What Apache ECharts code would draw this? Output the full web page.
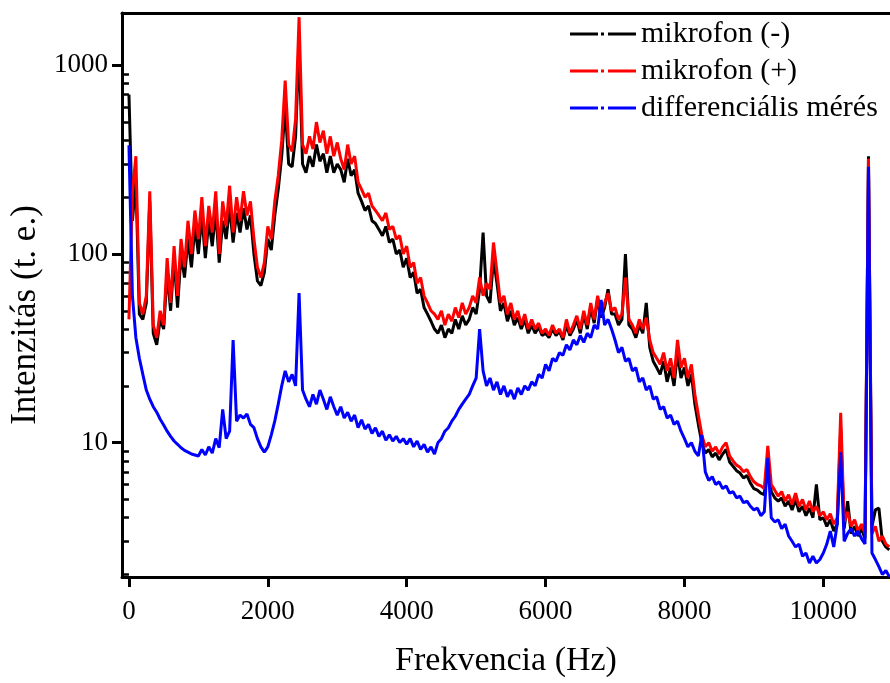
<!DOCTYPE html>
<html>
<head>
<meta charset="utf-8">
<script src="https://cdn.jsdelivr.net/npm/echarts@6/dist/echarts.min.js"></script>
<style>html,body{margin:0;padding:0;background:#fff}#c{width:890px;height:683px}</style>
</head>
<body>
<div id="c"></div>
<script>
const freq = [
0,50,100,150,200,250,300,350,400,450,500,550,600,650,700,750,800,850,900,950,
1000,1050,1100,1150,1200,1250,1300,1350,1400,1450,1500,1550,1600,1650,1700,1750,1800,1850,1900,1950,
2000,2050,2100,2150,2200,2250,2300,2350,2400,2450,2500,2550,2600,2650,2700,2750,2800,2850,2900,2950,
3000,3050,3100,3150,3200,3250,3300,3350,3400,3450,3500,3550,3600,3650,3700,3750,3800,3850,3900,3950,
4000,4050,4100,4150,4200,4250,4300,4350,4400,4450,4500,4550,4600,4650,4700,4750,4800,4850,4900,4950,
5000,5050,5100,5150,5200,5250,5300,5350,5400,5450,5500,5550,5600,5650,5700,5750,5800,5850,5900,5950,
6000,6050,6100,6150,6200,6250,6300,6350,6400,6450,6500,6550,6600,6650,6700,6750,6800,6850,6900,6950,
7000,7050,7100,7150,7200,7250,7300,7350,7400,7450,7500,7550,7600,7650,7700,7750,7800,7850,7900,7950,
8000,8050,8100,8150,8200,8250,8300,8350,8400,8450,8500,8550,8600,8650,8700,8750,8800,8850,8900,8950,
9000,9050,9100,9150,9200,9250,9300,9350,9400,9450,9500,9550,9600,9650,9700,9750,9800,9850,9900,9950,
10000,10050,10100,10150,10200,10250,10300,10350,10400,10450,10500,10550,10600,10650,10700,10750,10800,10850,10900,10950
];
const micMinus = [
700,150,250,48,45,55,190,38,33,45,40,80,50,95,52,100,75,120,85,140,
100,160,95,150,110,170,90,150,120,180,115,165,130,175,135,160,100,72,68,80,
120,105,160,220,330,600,300,290,420,1300,300,270,330,290,380,310,340,270,330,270,
300,280,240,320,260,280,210,190,170,180,150,145,135,125,140,115,120,100,105,85,
95,75,80,62,65,52,48,44,40,38,42,36,40,38,45,40,47,42,45,52,
48,65,130,60,55,95,70,50,55,44,50,42,46,40,45,38,42,38,41,37,
38,36,40,37,39,35,42,37,40,45,38,48,40,52,43,58,46,52,65,48,
48,42,45,100,42,40,36,42,38,55,32,27,25,23,27,21,25,20,30,22,
25,20,23,16,12.5,10,8.8,9.2,8.4,8.8,8.1,8.7,9.2,7.9,7.5,7.1,6.9,6.5,6.7,6.1,
5.7,5.6,5.4,5.3,8.5,5.5,5.1,4.9,5.1,4.6,4.9,4.4,5.0,4.3,4.6,4.1,4.5,4.0,6.0,3.9,
4.0,3.6,3.9,3.4,3.7,12,3.5,4.9,3.3,3.6,3.2,3.5,3.1,330,3.6,4.4,4.5,3.0,2.8,2.7
];
const micPlus = [
45,210,330,55,48,60,215,42,36,50,42,95,55,110,60,120,85,150,100,170,
120,200,110,180,130,215,100,190,140,230,130,200,150,215,160,190,120,85,75,90,
140,120,190,260,400,830,380,350,520,1800,380,340,420,360,500,390,450,340,420,330,
390,320,280,380,300,330,240,220,200,210,180,170,160,150,165,135,140,120,125,100,
110,85,90,70,75,60,55,50,48,45,50,42,48,44,52,46,55,48,52,60,
55,75,60,70,65,115,80,55,60,48,55,45,50,42,48,40,45,40,43,38,
40,37,42,38,40,36,45,38,42,47,40,50,42,55,45,60,48,55,62,50,
52,45,48,75,45,42,38,45,40,46,35,30,28,26,30,24,28,22,35,25,
28,22,26,18,14,11,9.5,10,9,9.5,8.7,9.5,10,8.5,8,7.6,7.4,7.0,7.2,6.6,
6.2,6.0,5.9,5.7,9.6,6.0,5.6,5.2,5.5,4.9,5.3,4.7,5.4,4.6,5.0,4.4,4.9,4.3,4.6,4.1,
4.3,3.9,4.2,3.7,4.0,14.4,3.8,4.3,3.6,3.9,3.4,3.7,3.3,320,3.3,3.6,3.0,3.2,2.9,2.8
];
const differential = [
377,60,36,28,23,19,17,15.5,14.5,13.3,12.4,11.5,10.8,10.2,9.8,9.4,9.1,8.9,8.7,8.6,
8.5,9.2,8.6,9.5,8.8,10.5,9.4,15,10.5,11.5,35,13,14,13.5,14.2,12.5,12,10.5,9.5,8.9,
9.5,11,13,16,20,24,21,23,20,62,19,17,15.5,18,16,19,17,15,17.5,15.5,
14,15.5,13.5,14.5,13,14,12,13.2,11.8,12.5,11.2,12,10.8,11.5,10.3,11,10.2,10.8,10,10.5,
9.8,10.5,9.5,10.2,9.2,9.8,8.9,9.5,8.7,10,10.5,11.5,12,13,13.8,15,16,17,18,20,
22,40,24,20,22,19,21,18,20,17.5,19,17,19.5,18,20,19,21,20,23,22,
26,24,28,27,30,29,33,31,35,33,37,34,38,36,42,40,57,42,45,40,
35,30,32,27,28,24,25,21,22,19,20,17,17.5,15,15.5,13.5,14,12.5,13,11.5,
10.5,9.5,10,9,8.5,11,7,6.3,6.6,6.0,6.2,5.7,5.9,5.4,5.5,5.1,5.2,4.8,4.9,4.6,
4.4,4.5,4.1,4.3,8.3,4.0,3.8,3.9,3.5,3.7,3.2,3.0,2.8,2.9,2.5,2.6,2.3,2.5,2.3,2.4,
2.6,2.9,3.4,2.8,3.7,8.9,3.0,3.3,3.5,3.2,3.4,3.1,2.9,290,2.6,2.4,2.2,2.0,2.1,1.95
];
const seriesNames = ['mikrofon (-)', 'mikrofon (+)', 'differenciális mérés'];
const seriesColors = ['#000000', '#ff0000', '#0000ff'];
const xTickValues = [0, 2000, 4000, 6000, 8000, 10000];
const yTickValues = [10, 100, 1000];
const yMinorTickValues = [2,3,4,5,6,7,8,9,20,30,40,50,60,70,80,90,200,300,400,500,600,700,800,900];

const FONT = 'Liberation Serif';
const chart = echarts.init(document.getElementById('c'), null, {renderer: 'canvas'});
const valueSets = [micMinus, micPlus, differential];
const xMin = -100, xMax = 10960, yMin = 1.94, yMax = 1894;
const plain = v => String(v);
const dashDotIcon = 'path://M0,0h28v3h-28z M31,0h3v3h-3z M38,0h28v3h-28z';

chart.setOption({
  animation: false,
  backgroundColor: '#ffffff',
  grid: {left: 122, right: 0, top: 13, bottom: 98, show: false},
  legend: {
    orient: 'vertical', left: 570, top: 19, padding: 0,
    itemWidth: 66, itemHeight: 3, itemGap: 7,
    icon: dashDotIcon,
    textStyle: {fontFamily: FONT, fontSize: 30, color: '#000'},
    data: seriesNames.map((n, i) => ({name: n, icon: dashDotIcon, itemStyle: {color: seriesColors[i]}}))
  },
  xAxis: [{
    type: 'value', min: xMin, max: xMax, position: 'bottom',
    name: 'Frekvencia (Hz)', nameLocation: 'middle', nameGap: 67,
    nameTextStyle: {fontFamily: FONT, fontSize: 34, color: '#000'},
    axisLine: {show: true, onZero: false, lineStyle: {color: '#000', width: 3}},
    axisTick: {show: true, inside: false, length: 10, lineStyle: {width: 3, color: '#000'}, customValues: xTickValues},
    axisLabel: {fontFamily: FONT, fontSize: 27, color: '#000', margin: 21, customValues: xTickValues, formatter: plain},
    splitLine: {show: false}
  }, {
    type: 'value', min: xMin, max: xMax, position: 'top',
    axisLine: {show: true, onZero: false, lineStyle: {color: '#000', width: 3}},
    axisTick: {show: false}, axisLabel: {show: false}, splitLine: {show: false}
  }],
  yAxis: [{
    type: 'log', logBase: 10, min: yMin, max: yMax, position: 'left',
    name: 'Intenzitás (t. e.)', nameLocation: 'middle', nameGap: 78,
    nameTextStyle: {fontFamily: FONT, fontSize: 35, color: '#000', padding: [0, 40, 0, 0]},
    axisLine: {show: true, onZero: false, lineStyle: {color: '#000', width: 3}},
    axisTick: {show: true, inside: false, length: 10, lineStyle: {width: 3, color: '#000'}, customValues: yTickValues},
    axisLabel: {fontFamily: FONT, fontSize: 27, color: '#000', margin: 14, customValues: yTickValues, formatter: plain},
    splitLine: {show: false}
  }, {
    type: 'log', logBase: 10, min: yMin, max: yMax, position: 'left',
    axisLine: {show: false},
    axisTick: {show: true, inside: false, length: 6, lineStyle: {width: 2.5, color: '#000'}, customValues: yMinorTickValues},
    axisLabel: {show: false}, splitLine: {show: false}
  }],
  series: seriesNames.map((n, i) => ({
    name: n, type: 'line', xAxisIndex: 0, yAxisIndex: 0,
    symbol: 'none', showSymbol: false,
    lineStyle: {color: seriesColors[i], width: 3},
    itemStyle: {color: seriesColors[i]},
    data: freq.map((f, k) => [f, valueSets[i][k]])
  }))
});
</script>
</body>
</html>
